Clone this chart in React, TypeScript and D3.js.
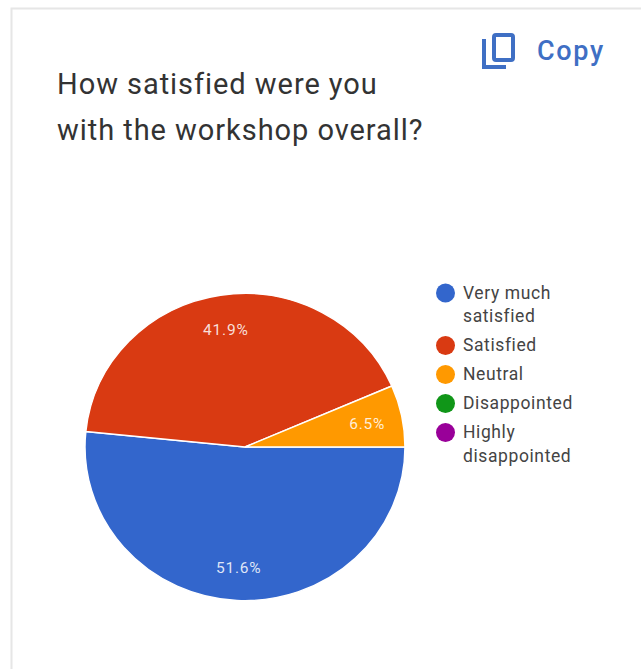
import React from 'react';
import * as d3 from 'd3';

const categories = ['Very much satisfied', 'Satisfied', 'Neutral', 'Disappointed', 'Highly disappointed'];
const shares = [51.6, 41.9, 6.5, 0, 0];
const colors = ['#3366cc', '#d93a12', '#ff9900', '#109618', '#990099'];
const legendLines = [['Very much', 'satisfied'], ['Satisfied'], ['Neutral'], ['Disappointed'], ['Highly', 'disappointed']];
const titleLines = ['How satisfied were you', 'with the workshop overall?'];

const font = 'Roboto, sans-serif';
const cx = 245;
const cy = 447;
const radius = 160;
// the picture is slightly squashed vertically
const squash = 0.96;

export default function App() {
  const pie = d3
    .pie<number>()
    .sort(null)
    .startAngle(Math.PI / 2)
    .endAngle(Math.PI * 2.5);
  const arcs = pie(shares);
  const arc = d3.arc<d3.PieArcDatum<number>>().innerRadius(0).outerRadius(radius);
  const labelArc = d3.arc<d3.PieArcDatum<number>>().innerRadius(radius * 0.78).outerRadius(radius * 0.78);

  let legendY = 293;

  return (
    <svg width={641} height={669} style={{ position: 'absolute', left: 0, top: 0, background: '#fff' }}>
      <path d="M11.5,669 V8.5 H641" fill="none" stroke="#e6e6e6" strokeWidth={2} />

      {titleLines.map((t, i) => (
        <text key={t} x={57} y={94 + i * 46} fontFamily={font} fontSize={29} letterSpacing={0.95} fill="#333333">
          {t}
        </text>
      ))}

      <g fill="none" stroke="#3f6fc4" strokeWidth={4}>
        <path d="M484,39 V67 H506" />
        <rect x={494} y={35} width={19} height={25} rx={2} />
      </g>
      <text x={537} y={60} fontFamily={font} fontSize={27} fontWeight={500} letterSpacing={1.7} fill="#3f6fc4">
        Copy
      </text>

      <g transform={`translate(${cx},${cy}) scale(1,${squash})`}>
        {arcs.map((d, i) => (
          <path key={categories[i]} d={arc(d) || ''} fill={colors[i]} stroke="#fff" strokeWidth={shares[i] > 0 ? 1.5 : 0} />
        ))}
      </g>
      <g transform={`translate(${cx},${cy})`}>
        {arcs.map((d, i) => {
          if (shares[i] === 0) return null;
          const [x, y] = labelArc.centroid(d);
          return (
            <text key={categories[i]} x={x} y={y * squash + 6} textAnchor="middle" fontFamily={font} fontSize={15.5} letterSpacing={0.8} fill="#fff" fillOpacity={0.85}>
              {shares[i].toFixed(1)}%
            </text>
          );
        })}
      </g>

      {categories.map((c, i) => {
        const y = legendY;
        legendY += legendLines[i].length * 23.5 + 5.5;
        return (
          <g key={c}>
            <circle cx={445.5} cy={y} r={9.5} fill={colors[i]} />
            {legendLines[i].map((line, j) => (
              <text key={line} x={463} y={y + 5.5 + j * 23.5} fontFamily={font} fontSize={17.5} letterSpacing={0.6} fill="#444444">
                {line}
              </text>
            ))}
          </g>
        );
      })}
    </svg>
  );
}
